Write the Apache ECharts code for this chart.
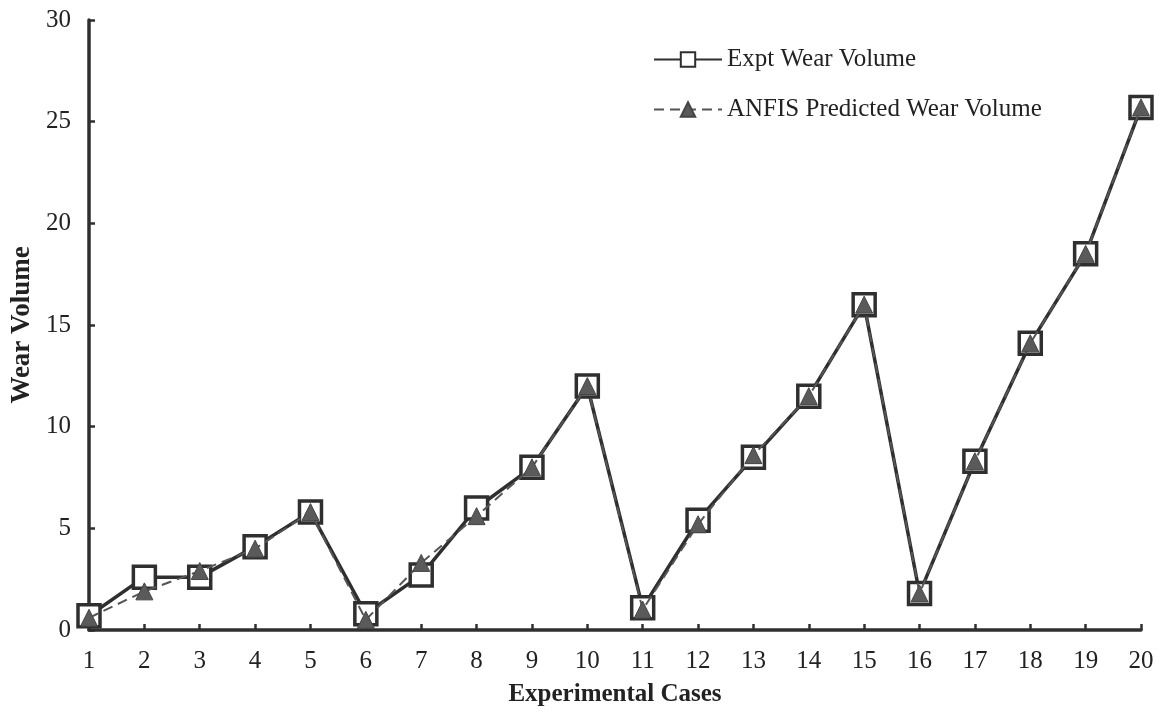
<!DOCTYPE html>
<html>
<head>
<meta charset="utf-8">
<script src="https://cdn.jsdelivr.net/npm/echarts@6/dist/echarts.min.js"></script>
<style>
  html, body { margin: 0; padding: 0; background: #fff; }
  #chart { width: 1165px; height: 713px; }
</style>
</head>
<body>
<div id="chart"></div>
<script>
// 实验工况 1..20
const cases = ['1','2','3','4','5','6','7','8','9','10','11','12','13','14','15','16','17','18','19','20']
const exptWear = [0.7, 2.6, 2.6, 4.1, 5.8, 0.8, 2.7, 6.0, 8.0, 12.0, 1.1, 5.4, 8.5, 11.5, 16.0, 1.8, 8.3, 14.1, 18.5, 25.7]
const anfisWear = [0.6, 1.9, 2.9, 4.0, 5.8, 0.5, 3.3, 5.6, 8.0, 12.0, 1.0, 5.2, 8.6, 11.5, 16.0, 1.8, 8.3, 14.1, 18.5, 25.7]

const FONT = '"Liberation Serif", "Times New Roman", serif'
const INK = '#2f2f2f'

const chart = echarts.init(document.getElementById('chart'))
chart.setOption({
  backgroundColor: '#fff',
  animation: false,
  textStyle: { fontFamily: FONT },
  grid: { left: 89, right: 24, top: 20, bottom: 83, containLabel: false, outerBoundsMode: 'none' },
  legend: {
    orient: 'vertical',
    left: 648,
    top: 42,
    itemGap: 25,
    itemWidth: 68,
    itemHeight: 18,
    textStyle: { fontFamily: FONT, fontSize: 25, color: '#222', padding: [0, 0, 0, 0] },
    data: ['Expt Wear Volume', 'ANFIS Predicted Wear Volume'],
  },
  xAxis: {
    type: 'category',
    data: cases,
    boundaryGap: false,
    name: 'Experimental Cases',
    nameLocation: 'middle',
    nameGap: 52,
    nameTextStyle: { fontFamily: FONT, fontSize: 25, fontWeight: 'bold', color: '#222' },
    axisLine: { lineStyle: { color: INK, width: 3.5 } },
    axisTick: { inside: true, length: 6, alignWithLabel: true, lineStyle: { color: INK, width: 2.5 } },
    axisLabel: { fontFamily: FONT, fontSize: 25, color: '#222', margin: 19 },
    splitLine: { show: false },
  },
  yAxis: {
    type: 'value',
    min: 0,
    max: 30,
    interval: 5,
    name: 'Wear Volume',
    nameLocation: 'middle',
    nameGap: 51,
    nameTextStyle: { fontFamily: FONT, fontSize: 27, fontWeight: 'bold', color: '#222' },
    axisLine: { show: true, lineStyle: { color: INK, width: 3.5 } },
    axisTick: { show: true, inside: true, length: 6, lineStyle: { color: INK, width: 2.5 } },
    axisLabel: { fontFamily: FONT, fontSize: 25, color: '#222', margin: 18 },
    splitLine: { show: false },
  },
  series: [
    {
      name: 'Expt Wear Volume',
      type: 'line',
      data: exptWear,
      symbol: 'rect',
      symbolSize: 22,
      showAllSymbol: true,
      lineStyle: { color: INK, width: 3.5 },
      itemStyle: { color: '#fff', borderColor: INK, borderWidth: 3.5 },
      z: 2,
    },
    {
      name: 'ANFIS Predicted Wear Volume',
      type: 'line',
      data: anfisWear,
      symbol: 'triangle',
      symbolSize: 17,
      showAllSymbol: true,
      lineStyle: { color: '#555', width: 2, type: [10, 6] },
      itemStyle: { color: '#5a5a5a', borderColor: '#444', borderWidth: 1 },
      z: 3,
    },
  ],
})
</script>
</body>
</html>
